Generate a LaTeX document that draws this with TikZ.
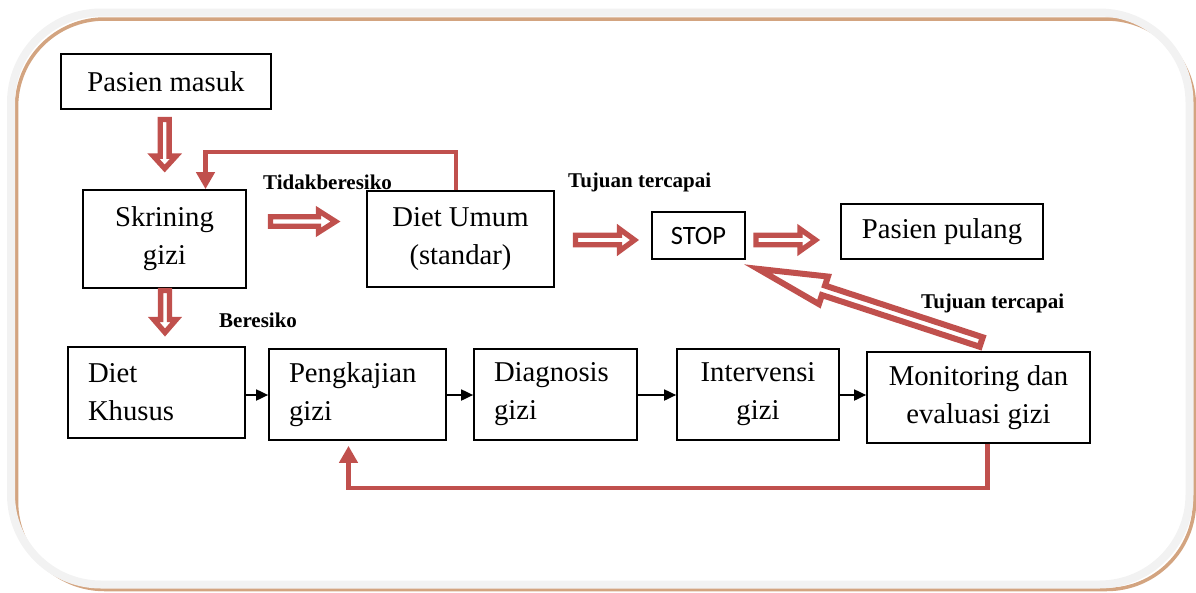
\documentclass[tikz,border=0pt]{standalone}
\usepackage{fontspec}
\setmainfont{Liberation Serif}
\newfontfamily\stopfont{Carlito}
\usetikzlibrary{arrows.meta,calc}
\definecolor{ored}{HTML}{C0504D}
\definecolor{frametan}{RGB}{211,164,128}
\definecolor{framegray}{HTML}{F2F2F2}
% #2,#3 tail (centre line), #4 angle, #5 tip distance, #6 shaft half, #7 head start, #8 head half
\newcommand\blockarrow[8][]{%
  \begin{scope}[shift={(#2,#3)},rotate=#4]
    \draw[hollowarrow,#1] (0,-#6) -- (#7,-#6) -- (#7,-#8) -- (#5,0) -- (#7,#8) -- (#7,#6) -- (0,#6) -- cycle;
  \end{scope}}
\begin{document}
\begin{tikzpicture}[x=1pt,y=-1pt,
  box/.style={draw,line width=1.7pt,inner sep=0pt,align=center,
    font=\fontsize{28.7}{38}\selectfont},
  leftbox/.style={box,inner xsep=20pt,align=left},
  lbl/.style={inner sep=0pt,anchor=base west,font=\fontsize{21}{25}\selectfont\bfseries},
  hollowarrow/.style={draw=ored,fill=white,line width=5.3pt,line join=miter},
  blk/.style={line width=1.8pt,-{Triangle[length=12pt,width=11pt]}},
  fb/.style={draw=ored,line width=4.5pt,-{Triangle[length=17pt,width=18pt]}},
]
\useasboundingbox (0,0) rectangle (1196,592);
% frame
\draw[frametan,line width=3.5pt,rounded corners=88pt] (16.5,19) rectangle (1194.5,589.5);
\draw[framegray,line width=8pt,rounded corners=90pt] (11,12.5) rectangle (1189.5,584.5);

% boxes
\node[box,minimum width=210pt,minimum height=55pt] (pm) at (166,81.5) {Pasien masuk};
\node[box,minimum width=163pt,minimum height=98pt] (skr) at (164.5,239) {Skrining\\gizi};
\node[box,minimum width=187pt,minimum height=96pt] (umum) at (460.5,239) {Diet Umum\\(standar)};
\node[box,minimum width=93pt,minimum height=47pt,font=\stopfont\fontsize{26.5}{30}\selectfont] (stop) at (698.5,235.5) {STOP};
\node[box,minimum width=202pt,minimum height=55pt] (pul) at (942,231.5) {Pasien pulang};
\node[leftbox,text width=137pt,minimum height=91pt] (khu) at (156.5,392.5) {Diet\\Khusus};
\node[leftbox,text width=137pt,minimum height=91pt] (peng) at (357.5,394.5) {Pengkajian\\gizi};
\node[leftbox,text width=123pt,minimum height=91pt] (diag) at (555.5,394.5) {Diagnosis\\gizi};
\node[box,minimum width=162pt,minimum height=91pt] (intv) at (758,394.5) {Intervensi\\gizi};
\node[box,minimum width=223pt,minimum height=91pt] (mon) at (978.5,397.5) {Monitoring dan\\evaluasi gizi};

% labels
\node[lbl] (l1) at (263,189) {Tidakberesiko};
\node[lbl] (l2) at (568,187) {Tujuan tercapai};
\node[lbl] (l3) at (921,308) {Tujuan tercapai};
\node[lbl] (l4) at (219,327) {Beresiko};

% black connectors
\coordinate (row) at (0,395);
\draw[blk] (khu.east |- row) -- (peng.west |- row);
\draw[blk] (peng.east |- row) -- (diag.west |- row);
\draw[blk] (diag.east |- row) -- (intv.west |- row);
\draw[blk] (intv.east |- row) -- (mon.west |- row);

% red feedback lines
\draw[fb] ([xshift=-4.5pt]umum.north) -- ++(0,-38) -| ([xshift=41pt]skr.north);
\draw[fb] ([xshift=9pt]mon.south) -- ++(0,44) -| ([xshift=-9pt,yshift=-5pt]peng.south);

% hollow block arrows
\blockarrow{164.7}{119.5}{-90}{49}{4.4}{36.6}{11.3}
\blockarrow{165}{290.5}{-90}{42}{4.4}{29}{11.3}
\blockarrow{270.5}{221.5}{0}{65}{4.8}{48}{10.8}
\blockarrow{575.5}{240}{0}{59}{4.7}{44}{11}
\blockarrow{756}{240}{0}{59.5}{4.7}{44}{11}
\blockarrow[line width=6pt]{981.2}{342}{161.86}{235}{5}{166}{14.5}
\end{tikzpicture}
\end{document}
